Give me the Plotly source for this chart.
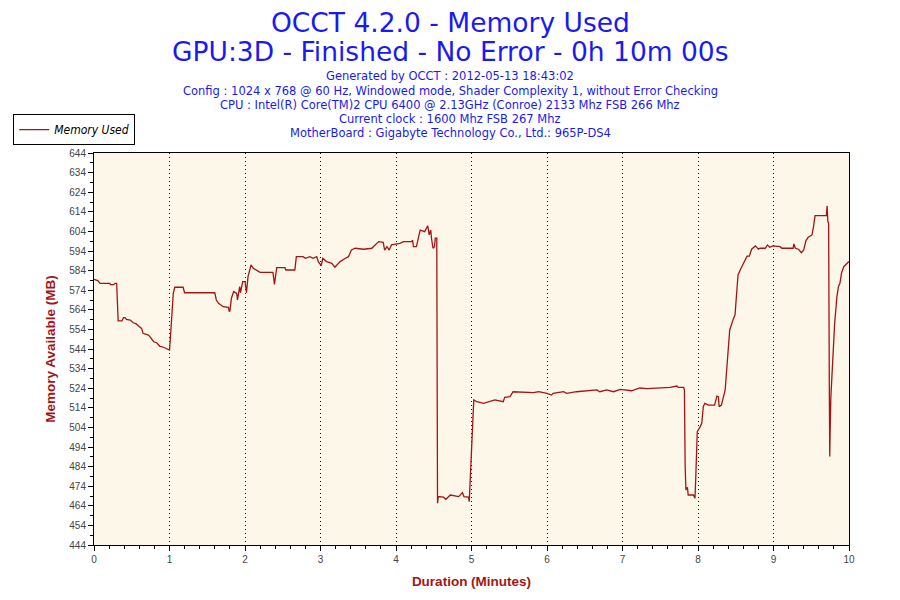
import plotly.graph_objects as go

# duration in minutes and memory used in MB
minutes = [
    0.00, 0.05, 0.08, 0.21, 0.22, 0.26, 0.28, 0.30, 0.32, 0.37, 0.39, 0.41, 0.43, 0.48,
    0.52, 0.56, 0.59, 0.63, 0.65, 0.68, 0.72, 0.74, 0.79, 0.83, 0.85, 0.87, 0.92, 0.96,
    1.00, 1.01, 1.03, 1.05, 1.07, 1.18, 1.20, 1.60, 1.62, 1.65, 1.71, 1.78, 1.79, 1.80,
    1.82, 1.85, 1.89, 1.90, 1.93, 1.94, 1.97, 2.00, 2.02, 2.04, 2.08, 2.11, 2.20, 2.37,
    2.39, 2.42, 2.53, 2.54, 2.66, 2.68, 2.77, 2.80, 2.86, 2.90, 2.95, 2.97, 3.01, 3.03,
    3.08, 3.15, 3.19, 3.26, 3.33, 3.37, 3.41, 3.46, 3.57, 3.68, 3.70, 3.77, 3.83, 3.85,
    3.88, 3.91, 3.94, 4.01, 4.05, 4.10, 4.21, 4.22, 4.23, 4.27, 4.30, 4.32, 4.38, 4.42,
    4.44, 4.46, 4.47, 4.49, 4.51, 4.52, 4.54, 4.55, 4.56, 4.63, 4.66, 4.72, 4.83, 4.88,
    4.90, 4.96, 4.97, 4.98, 4.99, 5.00, 5.015, 5.03, 5.07, 5.16, 5.31, 5.42, 5.44, 5.51,
    5.55, 5.82, 5.89, 6.00, 6.06, 6.08, 6.22, 6.26, 6.39, 6.66, 6.70, 6.79, 6.88, 6.97,
    7.12, 7.19, 7.23, 7.32, 7.63, 7.72, 7.74, 7.81, 7.82, 7.83, 7.84, 7.86, 7.87, 7.94,
    7.96, 7.97, 7.99, 8.03, 8.05, 8.07, 8.09, 8.14, 8.22, 8.25, 8.27, 8.28, 8.31, 8.36,
    8.38, 8.40, 8.42, 8.47, 8.49, 8.50, 8.52, 8.53, 8.57, 8.61, 8.65, 8.68, 8.71, 8.76,
    8.80, 8.82, 8.89, 8.92, 8.95, 8.99, 9.09, 9.11, 9.26, 9.27, 9.29, 9.33, 9.37, 9.40,
    9.43, 9.46, 9.51, 9.53, 9.55, 9.70, 9.71, 9.72, 9.73, 9.74, 9.745, 9.75, 9.76, 9.77,
    9.79, 9.81, 9.84, 9.86, 9.88, 9.90, 9.93, 9.97, 10.00,
]
memory_used = [
    579.5, 578.9, 577.5, 577.5, 576.8, 576.8, 577.5, 577.5, 558.3, 558.3, 560.0, 560.0, 559.1, 558.8,
    557.4, 556.8, 555.7, 554.5, 552.0, 551.5, 551.1, 550.3, 547.7, 547.2, 546.4, 545.5, 544.9, 544.2,
    543.5, 548.6, 560.5, 572.4, 575.5, 575.5, 572.7, 572.7, 569.0, 567.3, 565.6, 565.3, 563.4, 563.4,
    569.9, 573.3, 572.4, 569.0, 575.8, 572.7, 578.4, 578.4, 572.7, 580.9, 586.9, 585.2, 583.1, 583.1,
    577.0, 585.5, 585.5, 584.3, 584.3, 591.1, 591.1, 590.3, 591.1, 590.3, 591.1, 588.6, 586.5, 590.3,
    588.6, 587.7, 585.7, 588.6, 590.3, 591.1, 594.5, 595.4, 594.9, 595.4, 596.2, 598.8, 598.4, 594.5,
    596.2, 594.5, 597.1, 597.4, 597.9, 598.8, 598.8, 599.6, 596.2, 596.2, 602.2, 604.7, 603.9, 606.9,
    602.2, 604.7, 600.5, 595.4, 596.2, 600.5, 600.5, 465.3, 468.7, 468.4, 467.3, 469.5, 468.7, 470.7,
    468.7, 468.4, 466.1, 475.5, 485.7, 497.6, 508.6, 518.0, 517.1, 516.3, 518.0, 517.1, 519.3, 519.7,
    522.2, 521.7, 522.2, 521.4, 520.5, 521.4, 522.2, 521.4, 522.2, 523.1, 522.2, 523.1, 522.2, 523.4,
    522.7, 523.8, 524.1, 523.8, 524.4, 525.1, 524.4, 524.4, 523.1, 484.0, 472.1, 473.4, 469.5, 469.5,
    467.8, 478.0, 501.8, 504.4, 506.1, 514.6, 516.3, 515.4, 515.4, 520.0, 519.7, 514.6, 515.4, 523.1,
    533.3, 543.5, 553.7, 559.6, 561.3, 566.4, 575.8, 581.8, 585.2, 588.6, 591.4, 591.4, 594.9, 596.6,
    594.9, 595.4, 595.4, 597.1, 595.9, 596.6, 596.2, 595.4, 595.4, 597.6, 595.4, 594.9, 593.1, 594.5,
    599.3, 601.0, 602.2, 606.4, 612.0, 612.0, 617.0, 609.0, 608.1, 519.7, 489.1, 501.8, 519.7, 528.2,
    548.6, 557.1, 570.7, 575.8, 577.5, 582.6, 586.0, 587.7, 588.6,
]

y_ticks = list(range(444, 645, 10))

title_lines = ["OCCT 4.2.0 - Memory Used", "GPU:3D - Finished - No Error - 0h 10m 00s"]
info_lines = [
    "Generated by OCCT : 2012-05-13 18:43:02",
    "Config : 1024 x 768 @ 60 Hz, Windowed mode, Shader Complexity 1, without Error Checking",
    "CPU : Intel(R) Core(TM)2 CPU 6400 @ 2.13GHz (Conroe) 2133 Mhz FSB 266 Mhz",
    "Current clock : 1600 Mhz FSB 267 Mhz",
    "MotherBoard : Gigabyte Technology Co., Ltd.: 965P-DS4",
]

red = "#A31515"
blue = "#1A1AF0"

fig = go.Figure()
fig.add_trace(go.Scatter(x=minutes, y=memory_used, mode="lines",
                         name="<i>Memory Used</i>",
                         line=dict(color=red, width=1.3)))

# plot area spans pixels 94..849 x 153..545, texts are centred on the page (x=450)
px_mid = (450 - 94) / 755
annots = []
for txt, py in zip(title_lines, [22, 51]):
    annots.append(dict(text=txt, x=px_mid, y=(545 - py) / 392, xref="paper", yref="paper",
                       showarrow=False, font=dict(size=26.5, color=blue, family="DejaVu Sans"),
                       yanchor="middle"))
for txt, py in zip(info_lines, [76, 91, 105, 119, 133]):
    annots.append(dict(text=txt, x=px_mid, y=(545 - py) / 392, xref="paper", yref="paper",
                       showarrow=False, font=dict(size=11.5, color=blue, family="DejaVu Sans"),
                       yanchor="middle"))

# the page body adds an 8px offset, margins are trimmed to compensate
fig.update_layout(
    width=900, height=600,
    margin=dict(l=86, r=59, t=145, b=63, autoexpand=False),
    paper_bgcolor="white",
    plot_bgcolor="#FDF7EA",
    font=dict(family="Liberation Sans", size=10, color="#444444"),
    annotations=annots,
    showlegend=True,
    legend=dict(x=-0.107, y=1.099, xanchor="left", yanchor="top",
                bordercolor="black", borderwidth=1, bgcolor="white",
                font=dict(size=12, color="black", family="DejaVu Sans Condensed"),
                itemwidth=30, tracegroupgap=0),
)

fig.update_xaxes(
    range=[0, 10], tickmode="linear", tick0=0, dtick=1, automargin=False,
    showline=True, linecolor="black", linewidth=1, mirror=True,
    ticks="outside", ticklen=5, tickcolor="black",
    minor=dict(dtick=0.2, ticks="outside", ticklen=3, tickcolor="black", showgrid=False),
    showgrid=True, gridcolor="black", griddash="1px,3px", gridwidth=1,
    zeroline=False,
    title=dict(text="<b>Duration (Minutes)</b>", font=dict(size=13.5, color=red), standoff=12),
)
fig.update_yaxes(
    range=[444, 644], tickmode="array", tickvals=y_ticks, automargin=False,
    showline=True, linecolor="black", linewidth=1, mirror=True,
    ticks="outside", ticklen=5, tickcolor="black",
    minor=dict(dtick=5, tick0=444, ticks="outside", ticklen=3, tickcolor="black", showgrid=False),
    showgrid=False, zeroline=False,
    title=dict(text="<b>Memory Available (MB)</b>", font=dict(size=13.5, color=red), standoff=10),
)

fig.write_html("out.html")
